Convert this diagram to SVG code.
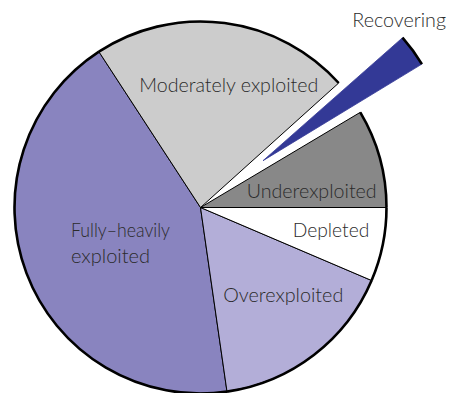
<svg xmlns="http://www.w3.org/2000/svg" width="453" height="393" viewBox="0 0 453 393">
<style>
.slice{stroke:#000;stroke-width:1;stroke-linejoin:miter}
.rim{fill:none;stroke:#000;stroke-width:2.6}
.lbl{font-family:"Lato","Open Sans",sans-serif;font-size:20px;font-weight:300;fill:#2b2b2b}
</style>
<rect width="453" height="393" fill="#fff"/>
<g id="fully-heavily">
<path class="slice" fill="#8984bf" d="M200.5,207.5 L98.9,51.7 A186,186 0 0 0 227,391.6 Z"/>
<path class="rim" d="M98.9,51.7 A186,186 0 0 0 227,391.6"/>
<text class="lbl" x="71" y="236.7" textLength="99" lengthAdjust="spacingAndGlyphs">Fully–heavily</text>
<text class="lbl" x="71" y="263.3" textLength="79" lengthAdjust="spacingAndGlyphs">exploited</text>
</g>
<g id="overexploited">
<path class="slice" fill="#b3aed8" d="M200.5,207.5 L227,391.6 A186,186 0 0 0 371.6,280.5 Z"/>
<path class="rim" d="M227,391.6 A186,186 0 0 0 371.6,280.5"/>
<text class="lbl" x="223.3" y="301.7" textLength="120" lengthAdjust="spacingAndGlyphs">Overexploited</text>
</g>
<g id="depleted">
<path class="slice" fill="#fff" d="M200.5,207.5 L371.6,280.5 A186,186 0 0 0 386.5,207.5 Z"/>
<path class="rim" d="M371.6,280.5 A186,186 0 0 0 386.5,207.5"/>
<text class="lbl" x="292.7" y="236.7" textLength="76.6" lengthAdjust="spacingAndGlyphs">Depleted</text>
</g>
<g id="underexploited">
<path class="slice" fill="#888" d="M200.5,207.5 L386.5,207.5 A186,186 0 0 0 360.3,112.3 Z"/>
<path class="rim" d="M386.5,207.5 A186,186 0 0 0 360.3,112.3"/>
<text class="lbl" x="246.7" y="198.3" textLength="130" lengthAdjust="spacingAndGlyphs">Underexploited</text>
</g>
<g id="moderately">
<path class="slice" fill="#ccc" d="M200.5,207.5 L338.7,83 A186,186 0 0 0 98.9,51.7 Z"/>
<path class="rim" d="M338.7,83 A186,186 0 0 0 98.9,51.7"/>
<text class="lbl" x="139.3" y="92.3" textLength="179" lengthAdjust="spacingAndGlyphs">Moderately exploited</text>
</g>
<g id="recovering">
<path fill="#333996" stroke="#333996" stroke-width="0.8" d="M263,160.7 L421.9,64.1 A186,186 0 0 0 402.5,37.7 Z"/>
<path class="rim" d="M421.9,64.1 A186,186 0 0 0 402.5,37.7"/>
<text class="lbl" x="352.3" y="27.3" textLength="93.7" lengthAdjust="spacingAndGlyphs">Recovering</text>
</g>
</svg>
